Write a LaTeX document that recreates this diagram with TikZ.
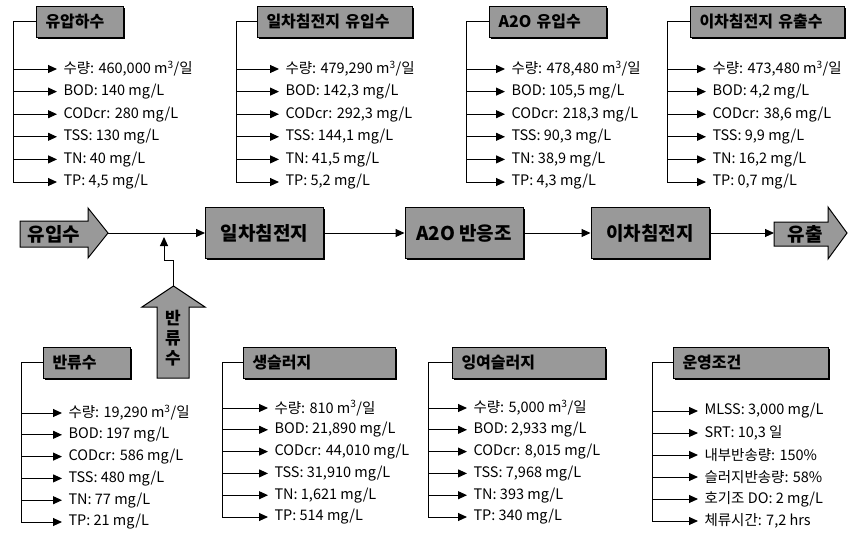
\documentclass[tikz,border=0pt]{standalone}
\usepackage{fontspec}
\setmainfont{Noto Sans CJK KR}
\usetikzlibrary{arrows.meta,shadows}
\definecolor{boxgray}{RGB}{153,153,153}
\tikzset{
  boxshadow/.style={drop shadow={shadow xshift=1.5pt,shadow yshift=-1.5pt,opacity=1,fill=black}},
  hdr/.style={draw,fill=boxgray,boxshadow,anchor=west,align=left,minimum height=31pt,
    inner xsep=9pt,font=\bfseries\fontsize{16}{18}\selectfont},
  item/.style={anchor=west,inner xsep=6pt,inner ysep=0pt,font=\fontsize{14.5}{16}\selectfont},
  proc/.style={draw,fill=boxgray,boxshadow,minimum width=118pt,minimum height=51pt,
    font=\bfseries\fontsize{19}{21}\selectfont},
  bigarrow/.style={draw,fill=boxgray},
  tip/.style={-{Triangle[length=9pt,width=8pt]}},
}
\newcommand\cum{m\textsuperscript{3}}
\newcommand\rowstep{22.6}
% #1 name, #2 header left, #3 header mid y, #4 text width, #5 trunk x,
% #6 arrow end x, #7 first row y, #8 title, #9 rows
\newcommand\datablock[9]{%
  \node[hdr,text width=#4] (#1) at (#2,#3) {#8};
  \coordinate (#1v) at (#5,#3);
  \foreach \t [count=\i] in {#9} {
    \node[item] (#1r\i) at (#6,{#7+\rowstep*(\i-1)}) {\t};
    \draw[tip] (#1v|-#1r\i.west) -- (#1r\i.west);
  }
  \draw (#1.west) -- (#1v) -- (#1v|-#1r6.west);
}
\begin{document}
\begin{tikzpicture}[x=1pt,y=-1pt,line width=1pt]
  \useasboundingbox (0,0) rectangle (856,536);
  % top row of data
  \datablock{inw}{36}{21.5}{69pt}{13}{57}{69}{유압하수}
    {{수량: 460,000 \cum/일},{BOD: 140 mg/L},{CODcr: 280 mg/L},{TSS: 130 mg/L},{TN: 40 mg/L},{TP: 4,5 mg/L}}
  \datablock{pin}{257}{21.5}{137pt}{236}{279}{69}{일차침전지 유입수}
    {{수량: 479,290 \cum/일},{BOD: 142,3 mg/L},{CODcr: 292,3 mg/L},{TSS: 144,1 mg/L},{TN: 41,5 mg/L},{TP: 5,2 mg/L}}
  \datablock{ain}{489}{21.5}{99pt}{466}{505}{69}{A2O 유입수}
    {{수량: 478,480 \cum/일},{BOD: 105,5 mg/L},{CODcr: 218,3 mg/L},{TSS: 90,3 mg/L},{TN: 38,9 mg/L},{TP: 4,3 mg/L}}
  \datablock{sout}{690}{21.5}{136pt}{667}{706}{69}{이차침전지 유출수}
    {{수량: 473,480 \cum/일},{BOD: 4,2 mg/L},{CODcr: 38,6 mg/L},{TSS: 9,9 mg/L},{TN: 16,2 mg/L},{TP: 0,7 mg/L}}
  % process line
  \draw[bigarrow] (20,221) -- (88,221) -- (88,208) -- (108,233) -- (88,258) -- (88,247) -- (20,247) -- cycle;
  \node[font=\bfseries\fontsize{19}{21}\selectfont] (inflow) at (54,234) {유입수};
  \coordinate (inflowtip) at (108,233);
  \node[proc] (pst) at (264.5,233) {일차침전지};
  \node[proc] (a2o) at (464,233) {A2O 반응조};
  \node[proc] (sst) at (650,233) {이차침전지};
  \draw[bigarrow] (774,222) -- (828,222) -- (828,207) -- (847,233) -- (828,259) -- (828,246) -- (774,246) -- cycle;
  \node[font=\bfseries\fontsize{19}{21}\selectfont] (outflow) at (805,234) {유출};
  \coordinate (outtail) at (774,233);
  \draw[tip] (inflowtip) -- (pst);
  \draw[tip] (pst) -- (a2o);
  \draw[tip] (a2o) -- (sst);
  \draw[tip] (sst) -- (outtail);
  % return flow
  \draw[bigarrow] (157,378) -- (157,307) -- (142,307) -- (173.5,286) -- (205,307) -- (189,307) -- (189,378) -- cycle;
  \node[font=\bfseries\fontsize{17}{20}\selectfont,align=center] (ret) at (173,338) {반\\류\\수};
  \coordinate (rettip) at (173.5,286);
  \coordinate (join) at (164,237);
  \draw[tip] (rettip) |- (164,260) -- (join);
  % bottom row of data
  \renewcommand\rowstep{21.8}
  \datablock{rtn}{43}{362.5}{69pt}{21}{62}{413}{반류수}
    {{수량: 19,290 \cum/일},{BOD: 197 mg/L},{CODcr: 586 mg/L},{TSS: 480 mg/L},{TN: 77 mg/L},{TP: 21 mg/L}}
  \datablock{raw}{243}{362.5}{134pt}{222}{268}{408}{생슬러지}
    {{수량: 810 \cum/일},{BOD: 21,890 mg/L},{CODcr: 44,010 mg/L},{TSS: 31,910 mg/L},{TN: 1,621 mg/L},{TP: 514 mg/L}}
  \datablock{was}{452}{362.5}{135pt}{428}{467}{408}{잉여슬러지}
    {{수량: 5,000 \cum/일},{BOD: 2,933 mg/L},{CODcr: 8,015 mg/L},{TSS: 7,968 mg/L},{TN: 393 mg/L},{TP: 340 mg/L}}
  \renewcommand\rowstep{22}
  \datablock{opr}{673}{362.5}{137pt}{652}{698}{411}{운영조건}
    {{MLSS: 3,000 mg/L},{SRT: 10,3 일},{내부반송량: 150\%},{슬러지반송량: 58\%},{호기조 DO: 2 mg/L},{체류시간: 7,2 hrs}}
\end{tikzpicture}
\end{document}
